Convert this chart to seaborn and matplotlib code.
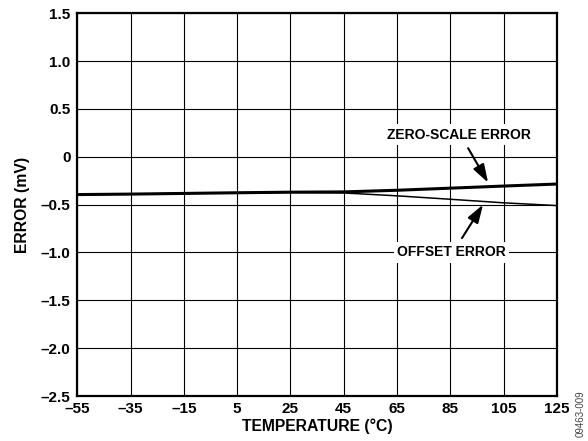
import numpy as np
import pandas as pd
import seaborn as sns
import matplotlib.pyplot as plt

# temperatura (°C)
temperatura = [-55, -35, -15, 5, 25, 45, 65, 85, 105, 125]
# erros em mV
zero_scale = [-0.395, -0.39, -0.383, -0.376, -0.37, -0.367, -0.35, -0.328, -0.306, -0.285]
offset = [-0.395, -0.39, -0.383, -0.376, -0.372, -0.378, -0.408, -0.444, -0.481, -0.51]

x_ticks = [-55, -35, -15, 5, 25, 45, 65, 85, 105, 125]
y_ticks = [1.5, 1.0, 0.5, 0, -0.5, -1.0, -1.5, -2.0, -2.5]

df = pd.DataFrame({'Temp': temperatura * 2,
                   'Erro': zero_scale + offset,
                   'Serie': ['ZERO-SCALE ERROR'] * len(temperatura) + ['OFFSET ERROR'] * len(temperatura)})

sns.set_style("white")
plt.rcParams['font.family'] = ['Liberation Sans', 'DejaVu Sans']
plt.rcParams['font.weight'] = 'bold'
plt.rcParams['text.color'] = 'black'
plt.rcParams['axes.labelcolor'] = 'black'
plt.rcParams['xtick.color'] = 'black'
plt.rcParams['ytick.color'] = 'black'

fig = plt.figure(figsize=(5.88, 4.41), dpi=100)
ax = fig.add_axes([0.1315, 0.102, 0.8155, 0.868])

sns.lineplot(data=df, x='Temp', y='Erro', hue='Serie', size='Serie',
             sizes={'ZERO-SCALE ERROR': 2.2, 'OFFSET ERROR': 1.1},
             palette={'ZERO-SCALE ERROR': 'black', 'OFFSET ERROR': 'black'},
             legend=False, ax=ax, zorder=3)

ax.set_xlim(-55, 125)
ax.set_ylim(-2.5, 1.5)
ax.set_xticks(x_ticks)
ax.set_yticks(y_ticks)
ax.set_xticklabels([str(t).replace('-', '\u2013') for t in x_ticks], fontsize=11, fontweight='bold')
ax.set_yticklabels(['0' if v == 0 else f'{v:.1f}'.replace('-', '\u2013') for v in y_ticks],
                   fontsize=11, fontweight='bold')
ax.tick_params(axis='x', length=0, pad=4)
ax.tick_params(axis='y', length=0, pad=5)
ax.grid(True, color='black', linewidth=0.8)
for s in ax.spines.values():
    s.set_linewidth(1.6)
    s.set_color('black')

ax.set_xlabel('TEMPERATURE (°C)', fontsize=11.3, fontweight='bold', labelpad=2)
ax.set_ylabel('ERROR (mV)', fontsize=11.3, fontweight='bold', labelpad=8)

# anotacoes
caixa = dict(boxstyle='square,pad=0.25', fc='white', ec='none')
seta = dict(arrowstyle='-|>,head_length=0.55,head_width=0.18', color='black', lw=1.5,
            mutation_scale=20, shrinkA=0, shrinkB=0)
ax.text(88.3, 0.228, 'ZERO-SCALE ERROR', fontsize=10, fontweight='bold',
        ha='center', va='center', bbox=caixa, zorder=4)
ax.text(85.5, -1.0, 'OFFSET ERROR', fontsize=10, fontweight='bold',
        ha='center', va='center', bbox=caixa, zorder=4)
ax.annotate('', xy=(99.2, -0.27), xytext=(91.7, 0.09), arrowprops=seta, zorder=4)
ax.annotate('', xy=(97.3, -0.50), xytext=(89.4, -0.85), arrowprops=seta, zorder=4)

fig.text(0.988, 0.063, '09463-009', rotation=90, fontsize=7, fontweight='normal',
         color='#444444', ha='center', va='center')

plt.savefig('out.png', dpi=100)
